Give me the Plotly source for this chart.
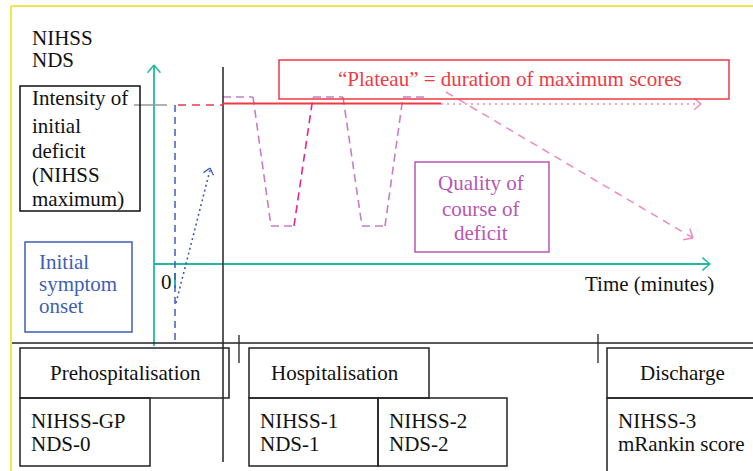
import math
import plotly.graph_objects as go

W, H = 753, 471
FONT = "Liberation Serif"
FS = 21

# ---- diagram data (diagram units: x to the right, y downward) ----
# course of deficit (the "W" shaped curve)
course_x = [223, 253, 271, 294, 313, 343, 362, 385, 403, 425]
course_y = [97, 97, 226, 226, 97, 97, 226, 226, 97, 97]
course_colors = ["#c77dc7", "#c77dc7", "#c77dc7", "#e0288f", "#c77dc7",
                 "#c77dc7", "#c77dc7", "#c77dc7", "#c77dc7"]

# axes of the schematic
y_axis_x, y_axis_top, y_axis_bottom = 154, 65, 346
x_axis_y, x_axis_right = 264, 710

# phase boxes: label, x0, x1
phase_labels = ["Prehospitalisation", "Hospitalisation", "Discharge"]
phase_x0 = [20, 249, 607]
phase_x1 = [229, 429, 760]
phase_text_x = [125, 335, 682]

# score boxes
score_line1 = ["NIHSS-GP", "NIHSS-1", "NIHSS-2", "NIHSS-3"]
score_line2 = ["NDS-0", "NDS-1", "NDS-2", "mRankin score"]
score_x0 = [20, 249, 378, 607]
score_x1 = [150, 378, 507, 760]
score_y1 = [466, 466, 466, 480]

fig = go.Figure()
shapes = []
annotations = []


def line(x0, y0, x1, y1, color, width=1.5, dash="solid"):
    shapes.append(dict(type="line", x0=x0, y0=y0, x1=x1, y1=y1, xref="x", yref="y",
                       line=dict(color=color, width=width, dash=dash)))


def rect(x0, y0, x1, y1, color, width=1.5):
    shapes.append(dict(type="rect", x0=x0, y0=y0, x1=x1, y1=y1, xref="x", yref="y",
                       line=dict(color=color, width=width), fillcolor="rgba(0,0,0,0)"))


def chevron(tx, ty, dx, dy, color, size=9, width=1.5):
    # open arrowhead at (tx,ty) pointing along (dx,dy)
    n = math.hypot(dx, dy)
    ux, uy = dx / n, dy / n
    for ang in (0.7, -0.7):
        c, s = math.cos(ang), math.sin(ang)
        bx = -(ux * c - uy * s)
        by = -(ux * s + uy * c)
        line(tx, ty, tx + bx * size, ty + by * size, color, width)


def text(x, y, t, color="#111111", size=FS, xanchor="left", align="left"):
    annotations.append(dict(x=x, y=y, xref="x", yref="y", text=t, showarrow=False,
                            xanchor=xanchor, yanchor="middle", align=align,
                            font=dict(family=FONT, size=size, color=color)))


# yellow frame
line(11, 6, 11, 471, "#f0e650", 2)
line(11, 6, 760, 6, "#f0e650", 2)

# teal axes
TEAL = "#22b8a2"
line(y_axis_x, y_axis_top, y_axis_x, y_axis_bottom, TEAL, 1.8)
chevron(y_axis_x, y_axis_top, 0, -1, TEAL, 10)
line(y_axis_x, x_axis_y, x_axis_right, x_axis_y, TEAL, 1.8)
chevron(x_axis_right, x_axis_y, 1, 0, TEAL, 10)
line(175, 273, 175, 288, TEAL, 2)

# black time divider and separator
line(223, 67, 223, 462, "#222222", 1.5)
line(12, 343, 760, 343, "#222222", 1.5)
line(239, 335, 239, 363, "#222222", 1.3)
line(598, 334, 598, 363, "#222222", 1.3)

# blue dashed onset line and dotted arrow
BLUE = "#3f5fb5"
line(175, 105, 175, 343, BLUE, 1.5, "7px,5px")
line(176, 303, 210, 170, BLUE, 1.6, "2px,3px")
chevron(210, 168, 34, -133, BLUE, 8, 1.3)

# intensity level
line(134, 105, 167, 105, "#999999", 1.5)
RED = "#ee3a44"
line(178, 105, 223, 105, RED, 1.5, "8px,6px")
line(223, 103.5, 441, 103.5, RED, 1.8)
PINK = "#f08ac0"
line(441, 104, 700, 104, PINK, 1.5, "2px,4px")
chevron(701, 104, 1, 0, PINK, 9)

# diagonal pink dashed arrow
line(446, 92, 693, 238, PINK, 1.5, "8px,6px")
chevron(693, 238, 247, 146, PINK, 10)

# course of deficit curve
for i in range(len(course_x) - 1):
    fig.add_trace(go.Scatter(x=course_x[i:i + 2], y=course_y[i:i + 2], mode="lines",
                             line=dict(color=course_colors[i], width=1.6, dash="8px,5px"),
                             hoverinfo="skip", showlegend=False))

# text boxes
rect(279, 60, 729, 99, RED, 1.5)
text(510, 79, "“Plateau” = duration of maximum scores", RED, FS, "center", "center")

MAG = "#b955b5"
rect(415, 162, 549, 252, MAG, 1.5)
text(481, 183, "Quality of", MAG, FS, "center")
text(481, 209, "course of", MAG, FS, "center")
text(481, 233, "deficit", MAG, FS, "center")

rect(20, 86, 140, 211, "#111111", 1.5)
for yy, t in zip([98, 126, 151, 175, 199],
                 ["Intensity of", "initial", "deficit", "(NIHSS", "maximum)"]):
    text(30, yy, t)

rect(25, 242, 132, 332, BLUE, 1.5)
for yy, t in zip([262, 284, 306], ["Initial", "symptom", "onset"]):
    text(37, yy, t, BLUE)

text(30, 38, "NIHSS")
text(30, 60, "NDS")
text(159, 282, "0")
text(583, 284, "Time (minutes)")

for lab, x0, x1, tx in zip(phase_labels, phase_x0, phase_x1, phase_text_x):
    rect(x0, 348, x1, 398, "#222222", 1.5)
    text(tx, 373, lab, "#111111", FS, "center")

for l1, l2, x0, x1, y1 in zip(score_line1, score_line2, score_x0, score_x1, score_y1):
    rect(x0, 398, x1, y1, "#222222", 1.5)
    text(x0 + 9, 421, l1)
    text(x0 + 9, 444, l2)

fig.update_layout(
    width=W, height=H, margin=dict(l=0, r=0, t=0, b=0),
    paper_bgcolor="white", plot_bgcolor="white",
    xaxis=dict(range=[0, W], visible=False, fixedrange=True),
    yaxis=dict(range=[H, 0], visible=False, fixedrange=True),
    shapes=shapes, annotations=annotations, showlegend=False,
)

fig.write_html("out.html", config={"displayModeBar": False},
               post_script="document.body.style.margin='0';document.body.style.overflow='hidden';")
